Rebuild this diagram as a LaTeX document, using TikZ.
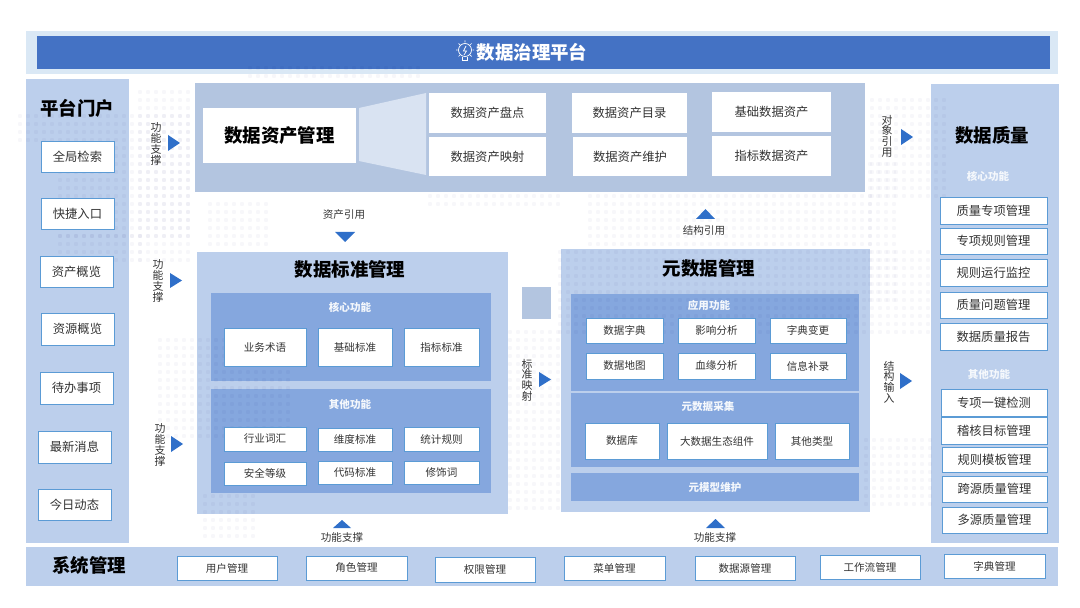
\documentclass[tikz,border=0pt]{standalone}
\usepackage{fontspec}
\setmainfont{Noto Sans CJK SC}
\definecolor{barblue}{HTML}{4472C4}
\definecolor{barpale}{HTML}{DAE8F5}
\definecolor{panelblue}{HTML}{BCCFEC}
\definecolor{subblue}{HTML}{85A7DE}
\definecolor{funnelblue}{HTML}{D9E3F2}
\definecolor{edgeblue}{HTML}{5B9BD5}
\definecolor{tipblue}{HTML}{2F6FC9}
\definecolor{inkgray}{HTML}{333333}
\tikzset{
  span/.style args={#1,#2,#3,#4}{minimum width={(#3-#1)*0.02cm},minimum height={(#4-#2)*0.02cm},at={({(#1+#3)/2},{(#2+#4)/2})}},
  blockbox/.style={rectangle,inner sep=0pt,outer sep=0pt},
  panelbox/.style={blockbox,fill=panelblue},
  subbox/.style={blockbox,fill=subblue},
  whitebox/.style={blockbox,fill=white,text=inkgray,font=\fontsize{7}{8}\selectfont},
  itembox/.style={whitebox,draw=edgeblue,line width=0.5pt},
  smallbox/.style={itembox,font=\fontsize{6}{7}\selectfont},
  headtext/.style={inner sep=0pt,text=black,font=\fontsize{10.5}{12}\selectfont\bfseries},
  subtext/.style={inner sep=0pt,text=white!92!subblue,font=\fontsize{6}{7}\selectfont\bfseries},
  sidetext/.style={inner sep=0pt,text=inkgray,font=\fontsize{6}{7}\selectfont},
  vertext/.style={sidetext,align=center,font=\fontsize{6.2}{6.1}\selectfont},
  tip/.style={fill=tipblue},
}
\begin{document}
\begin{tikzpicture}[x=0.02cm,y=-0.02cm]
\useasboundingbox (0,0) rectangle (1080,608);
% top bar
\node[blockbox,fill=barpale,span={26,31,1058,74}] (platformBack) {};
\node[blockbox,fill=barblue,span={37,36,1050,69}] (platformBar) {};
\node[headtext,text=white] (platformTitle) at (532,52) {数据治理平台};
% bulb icon
\draw[white,line width=0.4pt] (465,50) circle (6.5);
\draw[white,line width=0.4pt] (462.5,57)--(462.5,60.5)--(467.5,60.5)--(467.5,57);
\draw[white,line width=0.4pt] (466,46)--(463.5,51)--(466.5,51)--(464,55);
\draw[white,line width=0.4pt] (465,40.5)--(465,42.5) (456,50)--(457.5,50) (472.5,50)--(474,50) (458.5,43.5)--(460,45) (471.5,43.5)--(470,45) (458.5,56.5)--(460,55) (471.5,56.5)--(470,55);
% large panels
\node[panelbox,span={26,79,129,543}] (portalPanel) {};
\node[panelbox,fill=panelblue!95!black,span={195,83,865,192}] (assetPanel) {};
\node[panelbox,span={197,252,508,514}] (stdPanel) {};
\node[panelbox,span={561,249,870,512}] (metaPanel) {};
\node[panelbox,span={931,84,1059,543}] (qualityPanel) {};
\node[panelbox,span={26,547,1058,586}] (systemPanel) {};
\node[panelbox,fill=panelblue!95!black,span={522,287,551,319}] (midSquare) {};
\node[subbox,span={211,293,491,381}] (stdCore) {};
\node[subbox,span={211,389,491,493}] (stdOther) {};
\node[subbox,span={571,294,859,391}] (metaApp) {};
\node[subbox,span={571,393,859,467}] (metaCollect) {};
\node[subbox,span={571,473,859,501}] (metaModel) {};
% dots of the map behind
\foreach \xa/\ya/\xb/\yb in {20/116/190/140,60/148/190/236,140/92/190/260,60/236/140/260,
    250/68/420/76,430/196/560/204,590/196/870/244,872/100/950/196,560/252/930/332,
    160/340/290/440,205/496/260/540,510/332/560/508,866/440/930/508,870/164/900/300,
    210/204/270/244,960/420/1010/436}{
  \foreach \x in {\xa,\numexpr\xa+8\relax,...,\xb}
    \foreach \y in {\ya,\numexpr\ya+8\relax,...,\yb}
      \fill[blue!40!black,opacity=0.03] (\x,\y) circle (2.2);
}
% platform portal
\node[headtext] (portalTitle) at (77,108) {平台门户};
\node[itembox,span={41,141,114,172}] (portalSearch) {全局检索};
\node[itembox,span={41,198,114,229}] (portalEntry) {快捷入口};
\node[itembox,span={40,256,113,287}] (portalAsset) {资产概览};
\node[itembox,span={41,313,114,345}] (portalSource) {资源概览};
\node[itembox,span={40,372,113,404}] (portalTodo) {待办事项};
\node[itembox,span={38,431,111,463}] (portalNews) {最新消息};
\node[itembox,span={38,489,111,520}] (portalToday) {今日动态};
% data assets
\node[whitebox,font=\fontsize{10.5}{12}\selectfont\bfseries,text=black,span={203,108,356,163}] (assetTitle) {数据资产管理};
\fill[funnelblue] (359,108)--(426,93)--(426,175)--(359,161)--cycle;
\node[whitebox,span={429,93,546,133}] (assetCheck) {数据资产盘点};
\node[whitebox,span={429,137,546,176}] (assetMap) {数据资产映射};
\node[whitebox,span={572,93,687,133}] (assetList) {数据资产目录};
\node[whitebox,span={573,137,687,176}] (assetKeep) {数据资产维护};
\node[whitebox,span={712,92,831,132}] (assetBase) {基础数据资产};
\node[whitebox,span={712,136,831,176}] (assetIndex) {指标数据资产};
% data standards
\node[headtext] (stdTitle) at (350,269) {数据标准管理};
\node[subtext] (stdCoreText) at (350,307) {核心功能};
\node[smallbox,span={224,328,306,366}] (stdTerm) {业务术语};
\node[smallbox,span={318,328,392,366}] (stdBase) {基础标准};
\node[smallbox,span={404,328,479,366}] (stdIndex) {指标标准};
\node[subtext] (stdOtherText) at (350,404) {其他功能};
\node[smallbox,span={224,427,306,451}] (stdWord) {行业词汇};
\node[smallbox,span={318,428,392,451}] (stdDim) {维度标准};
\node[smallbox,span={404,427,479,451}] (stdStat) {统计规则};
\node[smallbox,span={224,462,306,485}] (stdSafe) {安全等级};
\node[smallbox,span={318,461,392,484}] (stdCode) {代码标准};
\node[smallbox,span={404,461,479,484}] (stdMod) {修饰词};
% metadata
\node[headtext] (metaTitle) at (709,268) {元数据管理};
\node[subtext] (metaAppText) at (709,305) {应用功能};
\node[smallbox,span={586,318,663,343}] (metaDict) {数据字典};
\node[smallbox,span={678,318,755,343}] (metaEffect) {影响分析};
\node[smallbox,span={770,318,846,343}] (metaChange) {字典变更};
\node[smallbox,span={586,353,663,379}] (metaMap) {数据地图};
\node[smallbox,span={678,353,755,379}] (metaBlood) {血缘分析};
\node[smallbox,span={770,353,846,379}] (metaInfo) {信息补录};
\node[subtext] (metaCollectText) at (708,406) {元数据采集};
\node[smallbox,span={585,423,659,459}] (metaBase) {数据库};
\node[smallbox,span={667,423,767,459}] (metaBig) {大数据生态组件};
\node[smallbox,span={775,423,849,459}] (metaOther) {其他类型};
\node[subtext] (metaModelText) at (715,487) {元模型维护};
% data quality
\node[headtext] (qualityTitle) at (992,135) {数据质量};
\node[subtext] (qualityCoreText) at (988,176) {核心功能};
\node[itembox,span={940,197,1047,224}] (qualitySpecial) {质量专项管理};
\node[itembox,span={940,228,1047,254}] (qualityRule) {专项规则管理};
\node[itembox,span={940,259,1047,286}] (qualityRun) {规则运行监控};
\node[itembox,span={940,292,1047,318}] (qualityIssue) {质量问题管理};
\node[itembox,span={940,323,1047,350}] (qualityReport) {数据质量报告};
\node[subtext] (qualityOtherText) at (989,374) {其他功能};
\node[itembox,span={941,389,1047,416}] (qualityCheck) {专项一键检测};
\node[itembox,span={941,417,1047,444}] (qualityAudit) {稽核目标管理};
\node[itembox,span={942,447,1047,472}] (qualityTpl) {规则模板管理};
\node[itembox,span={942,476,1047,502}] (qualityCross) {跨源质量管理};
\node[itembox,span={942,507,1047,533}] (qualityMulti) {多源质量管理};
% system management
\node[headtext] (systemTitle) at (89,565) {系统管理};
\node[smallbox,span={177,556,277,580}] (sysUser) {用户管理};
\node[smallbox,span={306,556,407,580}] (sysRole) {角色管理};
\node[smallbox,span={435,557,535,582}] (sysRight) {权限管理};
\node[smallbox,span={564,556,665,580}] (sysMenu) {菜单管理};
\node[smallbox,span={695,556,795,580}] (sysSource) {数据源管理};
\node[smallbox,span={820,555,920,579}] (sysFlow) {工作流管理};
\node[smallbox,span={944,554,1045,578}] (sysDict) {字典管理};
% side labels
\node[vertext] (supportA) at (156,144) {功\\能\\支\\撑};
\node[vertext] (supportB) at (158,281) {功\\能\\支\\撑};
\node[vertext] (supportC) at (160,445) {功\\能\\支\\撑};
\node[vertext] (objectRef) at (887,136) {对\\象\\引\\用};
\node[vertext] (stdMapText) at (527,380) {标\\准\\映\\射};
\node[vertext] (structIn) at (889,382) {结\\构\\输\\入};
\node[sidetext] (assetRef) at (344,215) {资产引用};
\node[sidetext] (structRef) at (704,231) {结构引用};
\node[sidetext] (supportD) at (342,537) {功能支撑};
\node[sidetext] (supportE) at (715,537) {功能支撑};
% triangles
\fill[tip] (168,135)--(180,143)--(168,151)--cycle;
\fill[tip] (170,273)--(182,280.5)--(170,288)--cycle;
\fill[tip] (171,436)--(183,444)--(171,452)--cycle;
\fill[tip] (539,372)--(551,379.5)--(539,387)--cycle;
\fill[tip] (901,129)--(913,137)--(901,145)--cycle;
\fill[tip] (900,373)--(912,381)--(900,389)--cycle;
\fill[tip] (335,232)--(355,232)--(345,242)--cycle;
\fill[tip] (696,219)--(715,219)--(705.5,209)--cycle;
\fill[tip] (333,528)--(351,528)--(342,520)--cycle;
\fill[tip] (706,528)--(725,528)--(715.5,519)--cycle;
\end{tikzpicture}
\end{document}
